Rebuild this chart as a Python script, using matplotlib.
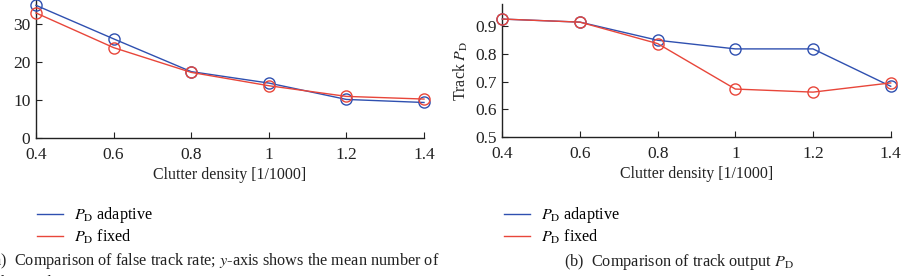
import matplotlib
matplotlib.use("Agg")
import matplotlib.pyplot as plt
from matplotlib.lines import Line2D

plt.rcParams['font.family'] = ['Liberation Serif', 'DejaVu Serif']
plt.rcParams['mathtext.fontset'] = 'stix'

clutter = [0.4, 0.6, 0.8, 1.0, 1.2, 1.4]
xticks = [0.4, 0.6, 0.8, 1.0, 1.2, 1.4]
xticklabels = ['0.4', '0.6', '0.8', '1', '1.2', '1.4']

false_adaptive = [34.9, 26.1, 17.5, 14.5, 10.2, 9.4]
false_fixed = [32.9, 23.8, 17.3, 13.8, 11.0, 10.3]

pd_adaptive = [0.924, 0.913, 0.848, 0.817, 0.817, 0.683]
pd_fixed = [0.924, 0.913, 0.836, 0.673, 0.662, 0.695]

left_yticks = [0, 10, 20, 30]
right_yticks = [0.5, 0.6, 0.7, 0.8, 0.9]

BLUE = '#2f50b0'
RED = '#e8463a'
TXT = '#222222'

W, H = 903, 276
fig = plt.figure(figsize=(W / 100, H / 100), dpi=100)

def px_axes(x0, x1, ytop, ybot):
    return fig.add_axes([x0 / W, 1 - ybot / H, (x1 - x0) / W, (ybot - ytop) / H])

axL = px_axes(36, 424, 0, 138.3)
axR = px_axes(502.3, 890.7, 4, 137.3)

def style(ax):
    for s in ['top', 'right']:
        ax.spines[s].set_visible(False)
    for s in ['left', 'bottom']:
        ax.spines[s].set_linewidth(1.0)
        ax.spines[s].set_color(TXT)
    ax.tick_params(direction='in', length=4, width=0.8, labelsize=12.5, colors=TXT)
    ax.tick_params(axis='x', pad=6)
    ax.tick_params(axis='y', pad=4)
    ax.set_xticks(xticks)
    ax.set_xticklabels(xticklabels)
    ax.set_xlim(0.4, 1.4)
    ax.set_xlabel('Clutter density [1/1000]', fontsize=11.4, color=TXT, labelpad=3)

for ax, a, f in [(axL, false_adaptive, false_fixed), (axR, pd_adaptive, pd_fixed)]:
    ax.plot(clutter, a, color=BLUE, lw=1.0, marker='o', ms=8, mfc='none', mew=1.0, clip_on=False, zorder=3)
    ax.plot(clutter, f, color=RED, lw=1.0, marker='o', ms=8, mfc='none', mew=1.0, clip_on=False, zorder=4)
    style(ax)

axL.set_ylim(0, 36.3)
axL.set_yticks(left_yticks)
axL.set_ylabel('Mean number of false tracks', fontsize=11.4, color=TXT, labelpad=12)

axR.set_ylim(0.5, 0.978)
axR.set_yticks(right_yticks)
axR.set_ylabel(r'Track $P_{\mathrm{D}}$', fontsize=11.4, color=TXT, labelpad=4)

handles = [Line2D([], [], color=BLUE, lw=1.0), Line2D([], [], color=RED, lw=1.0)]
labels = [r'$P_{\mathrm{D}}$ adaptive', r'$P_{\mathrm{D}}$ fixed']
for x in (36 / W, 503 / W):
    fig.legend(handles, labels, loc='upper left', bbox_to_anchor=(x - 0.003, 1 - 202 / H),
               frameon=False, fontsize=11.6, handlelength=1.65, handletextpad=0.65,
               labelspacing=0.15, borderaxespad=0, borderpad=0.2)

fig.text(-12 / W, 1 - 261 / H, r'(a)  Comparison of false track rate; $y$-axis shows the mean number of',
         fontsize=11.7, color=TXT, va='center', ha='left')
fig.text(-12 / W, 1 - 283 / H, 'false tracks',
         fontsize=11.7, color=TXT, va='center', ha='left')
fig.text(564 / W, 1 - 262 / H, r'(b)  Comparison of track output $P_{\mathrm{D}}$',
         fontsize=11.7, color=TXT, va='center', ha='left')

fig.savefig('out.png', dpi=100)
